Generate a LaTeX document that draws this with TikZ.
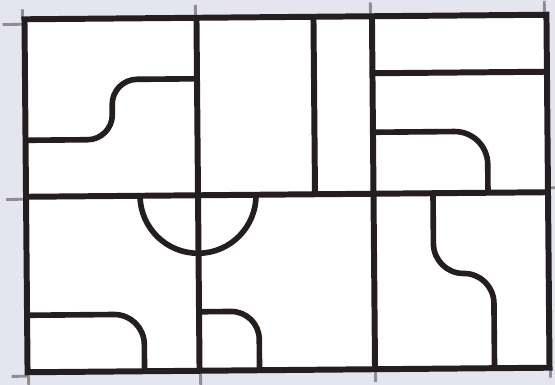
\documentclass[tikz,border=0pt]{standalone}
\usepackage{tikz}
\definecolor{scanbg}{RGB}{229,229,239}
\definecolor{ink}{RGB}{36,30,33}
\definecolor{pencilgray}{RGB}{128,126,132}

\begin{document}
\begin{tikzpicture}[
    x=0.02cm, y=-0.02cm,
    wall/.style={draw=ink, line width=3.4pt},
    track/.style={draw=ink, line width=3.2pt},
    pencil/.style={draw=pencilgray, line width=1.6pt, opacity=0.85}
  ]
    \fill[scanbg] (0,0) rectangle (555,385);
    \useasboundingbox (0,0) rectangle (555,385);

    \begin{scope}[rotate around={0.5:(287,194)}]
    % pencil marks at the corners
    \draw[pencil] (4,22) -- (26,22);
    \draw[pencil] (24,7) -- (24,17);
    \draw[pencil] (197,4) -- (197,17);
    \draw[pencil] (372,3) -- (372,17);
    \draw[pencil] (546,3) -- (546,17);
    \draw[pencil] (6,197) -- (26,197);
    \draw[pencil] (548,190) -- (556,190);
    \draw[pencil] (10,374) -- (26,374);
    \draw[pencil] (27,370) -- (27,385);
    \draw[pencil] (199,370) -- (199,385);
    \draw[pencil] (374,370) -- (374,383);
    \draw[pencil] (549,360) -- (549,380);

    % sheet and frame
    \fill[white] (26,17) rectangle (548,370);
    \draw[wall] (26,17) rectangle (548,370);
    \draw[wall] (26,194.5) -- (548,194.5);
    \draw[wall] (198,17) -- (198,370);
    \draw[wall] (373.5,17) -- (373.5,370);
    \draw[wall] (315,17) -- (315,194.5);
    \draw[wall] (373.5,74) -- (548,74);

    % tracks
    \draw[track, rounded corners=0.5cm] (26,138) -| (113,78) -- (198,78);
    \draw[track, rounded corners=0.66cm] (373.5,133) -| (488,194.5);
    \draw[track] (140,194.5) arc[start angle=180, end angle=0, radius=58];
    \draw[track, rounded corners=0.6cm] (26,313) -| (143,370);
    \draw[track, rounded corners=0.56cm] (198,311) -| (258,370);
    \draw[track, rounded corners=0.6cm] (433,194.5) |- (493,275) -- (493,370);
    \end{scope}
  \end{tikzpicture}
\end{document}
